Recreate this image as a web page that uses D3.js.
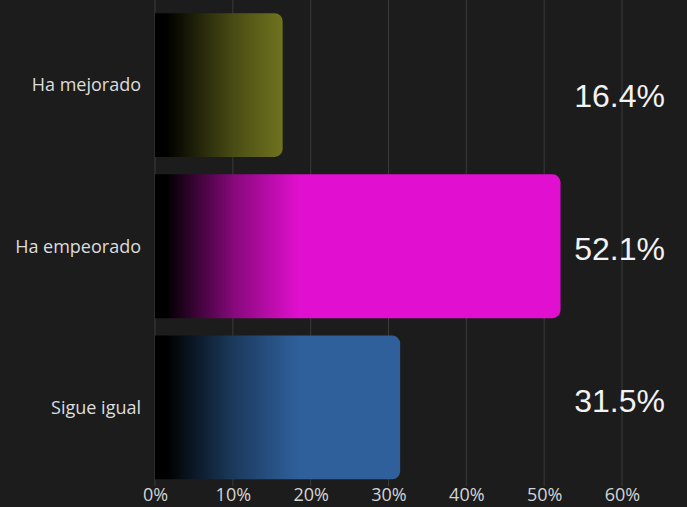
<!DOCTYPE html>
<html><head><meta charset="utf-8">
<script src="https://cdn.jsdelivr.net/npm/d3@7"></script>
<style>
html,body{margin:0;padding:0;background:#1c1c1c;}
svg{display:block;}
</style></head>
<body>
<svg id="chart" width="687" height="507"></svg>
<script>
const categories = ["Ha mejorado", "Ha empeorado", "Sigue igual"];
const values = [16.4, 52.1, 31.5];
const colors = ["#7c8022", "#e10fcf", "#2f609c"];
const tickValues = [0, 10, 20, 30, 40, 50, 60];

const W = 687, H = 507;
const svg = d3.select("#chart");
svg.append("rect").attr("width", W).attr("height", H).attr("fill", "#1c1c1c");

const x = d3.scaleLinear().domain([0, 60]).range([155, 622]);
const y = d3.scaleBand().domain(categories).range([4.5, 488]).paddingInner(0.108).paddingOuter(0.054);
const yLabel = d3.scalePoint().domain(categories).range([96, 401]);

const defs = svg.append("defs");
categories.forEach((c, i) => {
  const g = defs.append("linearGradient").attr("id", "grad" + i)
    .attr("gradientUnits", "userSpaceOnUse")
    .attr("x1", x(0)).attr("x2", x(18.5)).attr("y1", 0).attr("y2", 0);
  g.append("stop").attr("offset", 0).attr("stop-color", "#000");
  g.append("stop").attr("offset", 0.08).attr("stop-color", "#000");
  g.append("stop").attr("offset", 0.55).attr("stop-color", d3.interpolateRgb("#000", colors[i])(0.6));
  g.append("stop").attr("offset", 1).attr("stop-color", colors[i]);
});

// gridlines
svg.append("g").selectAll("line").data(tickValues).join("line")
  .attr("x1", d => x(d)).attr("x2", d => x(d))
  .attr("y1", 0).attr("y2", 486)
  .attr("stroke", "#3a3a3a").attr("stroke-width", 1);

// bars with right-rounded corners
const r = 8;
function barPath(x0, x1, y0, h) {
  return `M${x0},${y0}H${x1 - r}A${r},${r} 0 0 1 ${x1},${y0 + r}V${y0 + h - r}A${r},${r} 0 0 1 ${x1 - r},${y0 + h}H${x0}Z`;
}
svg.append("g").selectAll("path").data(categories).join("path")
  .attr("d", (c, i) => barPath(x(0), x(values[i]), y(c), y.bandwidth()))
  .attr("fill", (c, i) => `url(#grad${i})`);

// category labels
svg.append("g").selectAll("text").data(categories).join("text")
  .attr("x", 141).attr("y", c => y(c) + y.bandwidth() / 2)
  .attr("dy", "0.35em").attr("text-anchor", "end")
  .attr("font-family", "'Open Sans', sans-serif").attr("font-size", 18)
  .attr("fill", "#dcdcdc").text(c => c);

// value labels
svg.append("g").selectAll("text").data(categories).join("text")
  .attr("x", 665).attr("y", c => yLabel(c))
  .attr("dy", "0.35em").attr("text-anchor", "end")
  .attr("font-family", "'Liberation Sans', Arial, sans-serif").attr("font-size", 32)
  .attr("fill", "#f2f2f2").text((c, i) => values[i].toFixed(1) + "%");

// x axis tick labels
const axis = d3.axisBottom(x).tickValues(tickValues).tickSize(0).tickPadding(0).tickFormat(d => d + "%");
const ax = svg.append("g").attr("transform", "translate(0,488)").call(axis);
ax.select(".domain").remove();
ax.selectAll("text").attr("font-family", "'Open Sans', sans-serif").attr("font-size", 18)
  .attr("fill", "#d4d4d4").attr("dy", "0.71em");
</script>
</body></html>
